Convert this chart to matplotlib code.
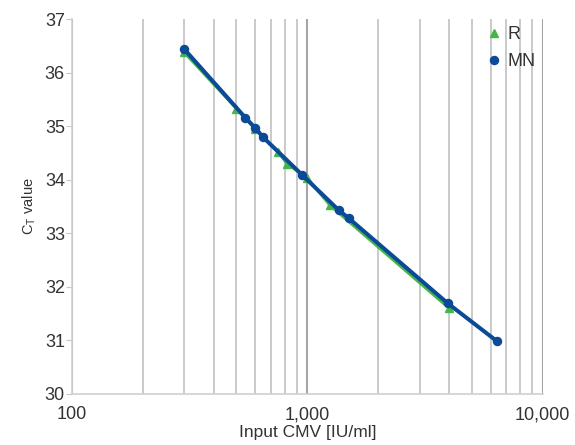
import matplotlib
matplotlib.use("Agg")
import matplotlib.pyplot as plt
from matplotlib.ticker import FixedLocator, FuncFormatter, LogLocator, NullFormatter

plt.rcParams['font.family'] = ['Liberation Sans', 'DejaVu Sans']
plt.rcParams['mathtext.fontset'] = 'custom'
plt.rcParams['mathtext.rm'] = 'Liberation Sans'
plt.rcParams['mathtext.it'] = 'Liberation Sans'

# Data
r_x = [300, 500, 600, 750, 820, 1000, 1250, 4000]
r_y = [36.38, 35.33, 34.95, 34.52, 34.30, 34.03, 33.52, 31.60]
mn_x = [300, 545, 600, 650, 950, 1360, 1500, 3950, 6400]
mn_y = [36.44, 35.16, 34.97, 34.79, 34.09, 33.43, 33.28, 31.69, 30.98]
series_names = ["R", "MN"]
x_ticks = [100, 1000, 10000]
y_ticks = [30, 31, 32, 33, 34, 35, 36, 37]

green = "#45b649"
blue = "#0b4a96"
text_c = "#333333"

fig = plt.figure(figsize=(5.75, 4.45), dpi=100)
ax = fig.add_axes([0.125, 0.115, 0.819, 0.842])

ax.plot(r_x, r_y, color=green, lw=2.2, marker="^", ms=6, zorder=3, label=series_names[0])
ax.plot(mn_x, mn_y, color=blue, lw=2.9, marker="o", ms=5.8, zorder=4, label=series_names[1])

ax.set_xscale("log")
ax.set_xlim(100, 10000)
ax.set_ylim(30, 37)
ax.xaxis.set_major_locator(FixedLocator(x_ticks))
ax.xaxis.set_major_formatter(FuncFormatter(lambda v, p: f"{int(round(v)):,}"))
ax.xaxis.set_minor_locator(LogLocator(base=10, subs=range(2, 10)))
ax.xaxis.set_minor_formatter(NullFormatter())
ax.set_yticks(y_ticks)

ax.grid(True, axis="x", which="minor", color="#c6c6c6", lw=1.3)
ax.grid(True, axis="x", which="major", color="#a5a5a5", lw=1.5)
ax.set_axisbelow(True)

for s in ["top", "right"]:
    ax.spines[s].set_visible(False)
for s in ["left", "bottom"]:
    ax.spines[s].set_color("#d0d0d0")
    ax.spines[s].set_linewidth(1.2)

ax.tick_params(axis="x", which="both", length=0, labelsize=13, labelcolor=text_c, pad=9)
ax.tick_params(axis="y", which="major", length=4, color="#c8c8c8", labelsize=13, labelcolor=text_c, pad=1)

ax.set_xlabel("Input CMV [IU/ml]", fontsize=12.5, color=text_c, labelpad=1)
ax.set_ylabel("C$_\\mathrm{T}$ value", fontsize=10.5, color=text_c, labelpad=5)

leg = ax.legend(loc="upper right", frameon=False, fontsize=13, handlelength=0.8,
                handletextpad=0.35, labelspacing=0.55, borderaxespad=0.0,
                bbox_to_anchor=(1.0, 1.0))
for h in leg.legend_handles:
    h.set_linestyle("none")
for t in leg.get_texts():
    t.set_color(text_c)

fig.savefig("out.png", dpi=100, facecolor="white")
